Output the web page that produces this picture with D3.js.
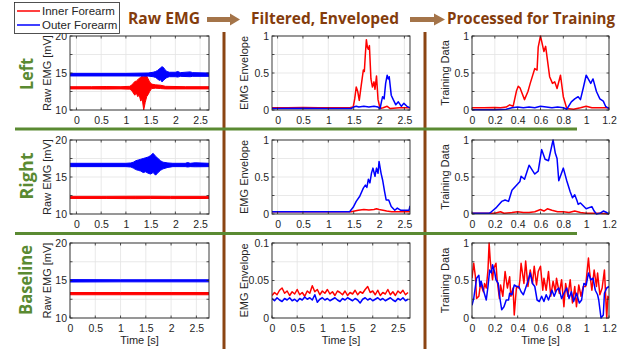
<!DOCTYPE html>
<html><head><meta charset="utf-8">
<script src="https://cdn.jsdelivr.net/npm/d3@7"></script>
<style>body{margin:0;background:#fff}svg{display:block}</style>
</head><body>
<svg id="c" width="633" height="356"></svg>
<script>
// ---------------- DATA ----------------
const stageTitles = ["Raw EMG", "Filtered, Enveloped", "Processed for Training"];
const rowLabels = ["Left", "Right", "Baseline"];
const seriesNames = ["Inner Forearm", "Outer Forearm"];
const yLabels = ["Raw EMG [mV]", "EMG Envelope", "Training Data"];
const xLabel = "Time [s]";

const rawYTicks = [10, 15, 20];
const rawYGrid = [10, 12.5, 15, 17.5, 20];
const envYTicks = [0, 0.5, 1];
const envYGrid = [0, 0.25, 0.5, 0.75, 1];
const baseEnvYTicks = [0, 0.05, 0.1];
const baseEnvYGrid = [0, 0.025, 0.05, 0.075, 0.1];
const timeTicks = [0, 0.5, 1, 1.5, 2, 2.5];
const trainTicks = [0, 0.2, 0.4, 0.6, 0.8, 1, 1.2];

// raw EMG: [time, min, max]
const leftRawInner = [[-0.13,12.85,13.15],[0.3,12.85,13.15],[0.6,12.83,13.17],[0.9,12.85,13.15],[1.08,12.82,13.2],[1.12,12.6,13.4],[1.15,12.3,13.6],[1.18,12.0,13.85],[1.21,12.3,13.9],[1.24,11.8,14.1],[1.27,12.0,14.3],[1.30,11.2,14.4],[1.33,11.5,14.6],[1.36,10.0,14.5],[1.39,11.0,14.7],[1.42,11.8,14.6],[1.45,12.1,14.2],[1.48,12.5,13.8],[1.52,12.9,13.5],[1.6,12.95,13.4],[1.7,12.9,13.35],[1.8,12.85,13.2],[2.2,12.85,13.15],[2.68,12.85,13.15]];
const leftRawOuter = [[-0.13,14.6,14.95],[1.0,14.6,14.95],[1.45,14.58,15.0],[1.55,14.5,15.1],[1.6,14.4,15.2],[1.64,14.2,15.35],[1.67,14.0,15.5],[1.70,14.1,15.7],[1.73,13.8,15.85],[1.76,14.0,15.75],[1.79,14.2,15.45],[1.83,14.4,15.2],[1.88,14.5,15.1],[2.0,14.5,15.1],[2.05,14.45,15.2],[2.1,14.55,15.05],[2.3,14.5,15.15],[2.35,14.55,15.05],[2.68,14.55,15.0]];
const rightRawInner = [[-0.13,12.1,12.38],[0.6,12.1,12.38],[1.2,12.07,12.4],[1.5,12.1,12.4],[1.9,12.08,12.38],[2.68,12.1,12.38]];
const rightRawOuter = [[-0.13,16.4,16.85],[0.5,16.4,16.85],[1.0,16.4,16.85],[1.1,16.35,16.9],[1.15,16.2,17.0],[1.2,16.0,17.2],[1.25,15.9,17.3],[1.3,15.8,17.4],[1.35,15.6,17.5],[1.4,15.7,17.6],[1.45,15.5,17.7],[1.5,15.4,17.9],[1.55,15.6,18.2],[1.6,15.25,17.8],[1.65,15.6,17.5],[1.7,15.9,17.2],[1.75,16.1,17.0],[1.85,16.3,16.9],[1.95,16.4,16.85],[2.2,16.4,16.85],[2.25,16.35,16.95],[2.3,16.4,16.85],[2.4,16.38,16.92],[2.68,16.4,16.85]];
const baseRawInner = [[0,13.1,13.4],[1.0,13.1,13.4],[2.0,13.1,13.4],[2.75,13.1,13.4]];
const baseRawOuter = [[0,14.8,15.12],[1.0,14.82,15.1],[2.0,14.82,15.1],[2.75,14.82,15.1]];

// envelopes: [time, value]
const leftEnvInner = [[-0.11,0.03],[0.2,0.03],[0.5,0.035],[0.8,0.03],[1.1,0.03],[1.42,0.03],[1.49,0.04],[1.52,0.15],[1.55,0.31],[1.58,0.25],[1.61,0.13],[1.65,0.34],[1.69,0.54],[1.71,0.52],[1.73,0.75],[1.75,0.95],[1.77,0.85],[1.79,0.82],[1.81,0.87],[1.84,0.42],[1.87,0.31],[1.90,0.38],[1.92,0.28],[1.95,0.46],[1.98,0.14],[2.02,0.02],[2.08,0.03],[2.16,0.05],[2.22,0.02],[2.4,0.03],[2.61,0.03]];
const leftEnvOuter = [[-0.11,0.02],[0.5,0.025],[1.0,0.02],[1.45,0.02],[1.5,0.04],[1.55,0.05],[1.6,0.04],[1.7,0.05],[1.8,0.04],[1.9,0.05],[1.98,0.04],[2.02,0.02],[2.05,0.12],[2.07,0.18],[2.1,0.15],[2.13,0.36],[2.16,0.47],[2.18,0.42],[2.2,0.45],[2.24,0.2],[2.28,0.14],[2.33,0.07],[2.38,0.11],[2.44,0.05],[2.49,0.09],[2.55,0.05],[2.61,0.03]];
const rightEnvInner = [[-0.11,0.03],[1.45,0.03],[1.52,0.04],[1.59,0.05],[1.7,0.06],[1.8,0.055],[1.9,0.06],[1.95,0.07],[2.0,0.06],[2.08,0.05],[2.15,0.04],[2.25,0.03],[2.61,0.03]];
const rightEnvOuter = [[-0.11,0.03],[0.5,0.03],[1.0,0.03],[1.42,0.03],[1.49,0.09],[1.55,0.17],[1.62,0.24],[1.69,0.35],[1.73,0.39],[1.76,0.36],[1.79,0.47],[1.82,0.42],[1.85,0.55],[1.88,0.62],[1.92,0.51],[1.95,0.62],[1.98,0.55],[2.0,0.71],[2.04,0.55],[2.07,0.46],[2.11,0.30],[2.14,0.19],[2.19,0.19],[2.24,0.10],[2.31,0.05],[2.36,0.08],[2.43,0.05],[2.53,0.05],[2.59,0.05],[2.61,0.11]];
const baseEnvInner = [[0,.030],[0.05,.034],[0.10,.031],[0.15,.037],[0.20,.040],[0.25,.033],[0.30,.036],[0.35,.030],[0.40,.035],[0.45,.032],[0.50,.038],[0.55,.031],[0.60,.034],[0.65,.029],[0.70,.036],[0.75,.033],[0.80,.043],[0.85,.035],[0.90,.038],[0.95,.031],[1.00,.036],[1.05,.033],[1.10,.038],[1.15,.032],[1.20,.035],[1.25,.030],[1.30,.036],[1.35,.034],[1.40,.031],[1.45,.036],[1.50,.030],[1.55,.034],[1.60,.032],[1.65,.037],[1.70,.031],[1.75,.035],[1.80,.033],[1.85,.038],[1.90,.042],[1.95,.034],[2.00,.036],[2.05,.031],[2.10,.037],[2.15,.030],[2.20,.034],[2.25,.032],[2.30,.038],[2.35,.031],[2.40,.035],[2.45,.030],[2.50,.036],[2.55,.033],[2.60,.037],[2.65,.031],[2.70,.034]];
const baseEnvOuter = [[0,.026],[0.05,.023],[0.10,.027],[0.15,.024],[0.20,.022],[0.25,.026],[0.30,.024],[0.35,.027],[0.40,.023],[0.45,.025],[0.50,.022],[0.55,.026],[0.60,.024],[0.65,.028],[0.70,.025],[0.75,.027],[0.80,.024],[0.85,.031],[0.90,.021],[0.95,.025],[1.00,.027],[1.05,.024],[1.10,.026],[1.15,.023],[1.20,.025],[1.25,.027],[1.30,.024],[1.35,.022],[1.40,.026],[1.45,.024],[1.50,.027],[1.55,.025],[1.60,.023],[1.65,.026],[1.70,.024],[1.75,.020],[1.80,.025],[1.85,.027],[1.90,.024],[1.95,.026],[2.00,.023],[2.05,.025],[2.10,.027],[2.15,.024],[2.20,.026],[2.25,.023],[2.30,.025],[2.35,.027],[2.40,.024],[2.45,.022],[2.50,.026],[2.55,.024],[2.60,.027],[2.65,.023],[2.70,.025]];

// training data: [time, value]
const leftTrainInner = [[0,0.03],[0.1,0.03],[0.2,0.035],[0.25,0.03],[0.3,0.04],[0.33,0.07],[0.36,0.05],[0.39,0.26],[0.405,0.32],[0.42,0.3],[0.46,0.14],[0.49,0.25],[0.51,0.36],[0.55,0.56],[0.57,0.54],[0.58,0.85],[0.60,1.0],[0.63,0.79],[0.645,0.86],[0.68,0.45],[0.705,0.36],[0.725,0.38],[0.745,0.29],[0.775,0.47],[0.80,0.18],[0.83,0.02],[0.89,0.01],[0.95,0.03],[1.0,0.05],[1.05,0.03],[1.2,0.03]];
const leftTrainOuter = [[0,0.005],[0.2,0.005],[0.3,0.01],[0.35,0.03],[0.4,0.04],[0.45,0.03],[0.5,0.04],[0.55,0.03],[0.6,0.05],[0.65,0.04],[0.7,0.03],[0.75,0.04],[0.8,0.03],[0.83,0.01],[0.87,0.11],[0.9,0.15],[0.93,0.18],[0.95,0.14],[0.975,0.3],[1.0,0.47],[1.04,0.36],[1.06,0.42],[1.09,0.25],[1.12,0.15],[1.15,0.12],[1.17,0.05],[1.2,0.02]];
const rightTrainInner = [[0,0.01],[0.1,0.01],[0.2,0.01],[0.25,0.03],[0.28,0.01],[0.35,0.02],[0.4,0.03],[0.45,0.02],[0.5,0.02],[0.55,0.03],[0.6,0.06],[0.63,0.04],[0.66,0.07],[0.7,0.05],[0.75,0.03],[0.8,0.03],[0.85,0.02],[0.9,0.04],[0.95,0.02],[1.0,0.01],[1.1,0.01],[1.2,0.005]];
const rightTrainOuter = [[0,0.01],[0.1,0.01],[0.15,0.01],[0.17,0.03],[0.215,0.09],[0.26,0.17],[0.29,0.19],[0.32,0.17],[0.35,0.32],[0.39,0.39],[0.42,0.44],[0.43,0.51],[0.46,0.47],[0.50,0.66],[0.55,0.54],[0.58,0.58],[0.61,0.87],[0.64,0.74],[0.67,0.72],[0.71,1.0],[0.73,0.82],[0.745,0.75],[0.76,0.45],[0.80,0.62],[0.83,0.45],[0.86,0.3],[0.88,0.22],[0.90,0.26],[0.92,0.18],[0.93,0.13],[0.95,0.15],[1.0,0.07],[1.05,0.1],[1.07,0.04],[1.09,0.0],[1.12,0.01],[1.15,0.04],[1.18,0.02],[1.2,0.0]];
const baseTrainInner = [[0,0.53],[0.015,0.73],[0.03,0.55],[0.04,0.26],[0.06,0.29],[0.075,0.46],[0.1,0.35],[0.11,0.46],[0.125,0.4],[0.14,0.64],[0.15,1.0],[0.16,0.76],[0.18,0.51],[0.19,0.66],[0.21,0.73],[0.22,0.51],[0.24,0.26],[0.25,0.44],[0.27,0.29],[0.29,0.62],[0.31,0.4],[0.33,0.55],[0.34,0.29],[0.36,0.4],[0.37,0.04],[0.39,0.42],[0.41,0.4],[0.42,0.51],[0.43,0.73],[0.455,0.46],[0.47,0.76],[0.49,0.42],[0.51,0.64],[0.53,0.46],[0.545,0.69],[0.565,0.44],[0.58,0.62],[0.6,0.69],[0.62,0.37],[0.63,0.53],[0.65,0.37],[0.67,0.62],[0.69,0.29],[0.71,0.49],[0.73,0.35],[0.74,0.53],[0.765,0.33],[0.785,0.51],[0.805,0.15],[0.82,0.46],[0.84,0.29],[0.86,0.51],[0.88,0.2],[0.9,0.42],[0.915,0.15],[0.935,0.44],[0.955,0.29],[0.975,0.42],[0.995,0.42],[1.02,0.8],[1.03,0.62],[1.05,0.37],[1.07,0.64],[1.09,0.42],[1.1,0.6],[1.12,0.31],[1.14,0.4],[1.16,0.64],[1.18,0.0],[1.19,0.29],[1.2,0.26]];
const baseTrainOuter = [[0,0.17],[0.015,0.26],[0.04,0.53],[0.06,0.57],[0.07,0.42],[0.08,0.49],[0.1,0.37],[0.125,0.24],[0.14,0.42],[0.155,0.64],[0.17,0.6],[0.18,0.71],[0.2,0.6],[0.21,0.51],[0.23,0.46],[0.24,0.31],[0.26,0.11],[0.28,0.15],[0.3,0.24],[0.32,0.24],[0.33,0.33],[0.35,0.31],[0.37,0.44],[0.39,0.42],[0.41,0.42],[0.43,0.35],[0.45,0.31],[0.47,0.4],[0.49,0.49],[0.51,0.6],[0.53,0.46],[0.55,0.42],[0.57,0.24],[0.59,0.22],[0.61,0.29],[0.63,0.22],[0.65,0.31],[0.67,0.24],[0.7,0.37],[0.72,0.29],[0.74,0.37],[0.76,0.4],[0.785,0.26],[0.805,0.33],[0.83,0.4],[0.85,0.26],[0.87,0.35],[0.89,0.22],[0.915,0.33],[0.94,0.2],[0.96,0.24],[0.98,0.46],[1.0,0.44],[1.02,0.6],[1.04,0.51],[1.06,0.53],[1.08,0.37],[1.1,0.31],[1.11,0.24],[1.13,0.0],[1.15,0.04],[1.16,0.33],[1.18,0.4],[1.2,0.42]];

// ---------------- LAYOUT / STYLE ----------------
const RED = "#ff0000", BLUE = "#0000ff";
const BROWN = "#843c0c", ARROW = "#a47449", VLINE = "#8b4513", GREEN = "#5a8a32";
const AX = "#262626", GRID = "#e3e3e3";
const colX = [[70, 209], [272, 410], [472, 609]];
const rowY = [[36, 110], [140, 214], [243, 318]];

const panels = [
  {r:0,c:0,xd:[-0.13,2.68],yd:[10,20],xt:timeTicks,yt:rawYTicks,yg:rawYGrid,band:[leftRawInner,leftRawOuter]},
  {r:0,c:1,xd:[-0.11,2.61],yd:[0,1],xt:timeTicks,yt:envYTicks,yg:envYGrid,line:[leftEnvInner,leftEnvOuter]},
  {r:0,c:2,xd:[0,1.2],yd:[0,1],xt:trainTicks,yt:envYTicks,yg:envYGrid,line:[leftTrainInner,leftTrainOuter]},
  {r:1,c:0,xd:[-0.13,2.68],yd:[10,20],xt:timeTicks,yt:rawYTicks,yg:rawYGrid,band:[rightRawInner,rightRawOuter]},
  {r:1,c:1,xd:[-0.11,2.61],yd:[0,1],xt:timeTicks,yt:envYTicks,yg:envYGrid,line:[rightEnvInner,rightEnvOuter]},
  {r:1,c:2,xd:[0,1.2],yd:[0,1],xt:trainTicks,yt:envYTicks,yg:envYGrid,line:[rightTrainInner,rightTrainOuter]},
  {r:2,c:0,xd:[0,2.75],yd:[10,20],xt:timeTicks,yt:rawYTicks,yg:rawYGrid,band:[baseRawInner,baseRawOuter]},
  {r:2,c:1,xd:[0,2.74],yd:[0,0.1],xt:timeTicks,yt:baseEnvYTicks,yg:baseEnvYGrid,line:[baseEnvInner,baseEnvOuter]},
  {r:2,c:2,xd:[0,1.2],yd:[0,1],xt:trainTicks,yt:envYTicks,yg:envYGrid,line:[baseTrainInner,baseTrainOuter]}
];
const yLabelX = [51, 248, 449];

const svg = d3.select("#c");
const TICKFONT = "'Liberation Sans', Arial, Helvetica, sans-serif";
const HEADFONT = "'Open Sans', 'Noto Sans', sans-serif";
const defs = svg.append("defs");

// separators
const sep = svg.append("g");
[224, 425].forEach(x => sep.append("line").attr("x1", x).attr("x2", x).attr("y1", 32).attr("y2", 349)
  .attr("stroke", VLINE).attr("stroke-width", 3));
[129, 233.5].forEach(y => sep.append("line").attr("x1", 15).attr("x2", 577).attr("y1", y).attr("y2", y)
  .attr("stroke", GREEN).attr("stroke-width", 3));

panels.forEach((p, i) => {
  const [x0, x1] = colX[p.c], [y0, y1] = rowY[p.r];
  const x = d3.scaleLinear().domain(p.xd).range([x0, x1]);
  const y = d3.scaleLinear().domain(p.yd).range([y1, y0]);
  const g = svg.append("g");
  g.append("rect").attr("x", x0).attr("y", y0).attr("width", x1 - x0).attr("height", y1 - y0).attr("fill", "#fff");
  g.selectAll(".gx").data(p.xt).join("line").attr("x1", d => x(d)).attr("x2", d => x(d))
    .attr("y1", y0).attr("y2", y1).attr("stroke", GRID).attr("stroke-width", 0.8);
  g.selectAll(".gy").data(p.yg).join("line").attr("y1", d => y(d)).attr("y2", d => y(d))
    .attr("x1", x0).attr("x2", x1).attr("stroke", GRID).attr("stroke-width", 0.8);
  const cid = "clip" + i;
  defs.append("clipPath").attr("id", cid).append("rect").attr("x", x0).attr("y", y0 - 1)
    .attr("width", x1 - x0).attr("height", y1 - y0 + 2);
  const dg = g.append("g").attr("clip-path", `url(#${cid})`);
  const cols = [RED, BLUE];
  if (p.band) {
    const area = d3.area().x(d => x(d[0])).y0(d => y(d[1])).y1(d => y(d[2]));
    p.band.forEach((s, k) => dg.append("path").datum(s).attr("d", area)
      .attr("fill", cols[k]).attr("stroke", cols[k]).attr("stroke-width", 1).attr("stroke-linejoin", "round"));
  }
  if (p.line) {
    const line = d3.line().x(d => x(d[0])).y(d => y(d[1]));
    p.line.forEach((s, k) => dg.append("path").datum(s).attr("d", line)
      .attr("fill", "none").attr("stroke", cols[k]).attr("stroke-width", 1.5).attr("stroke-linejoin", "round"));
  }
  const tl = 2.5;
  p.xt.forEach(v => {
    g.append("line").attr("x1", x(v)).attr("x2", x(v)).attr("y1", y1).attr("y2", y1 - tl).attr("stroke", AX).attr("stroke-width", 0.8);
    g.append("line").attr("x1", x(v)).attr("x2", x(v)).attr("y1", y0).attr("y2", y0 + tl).attr("stroke", AX).attr("stroke-width", 0.8);
  });
  p.yg.forEach(v => {
    g.append("line").attr("y1", y(v)).attr("y2", y(v)).attr("x1", x0).attr("x2", x0 + tl).attr("stroke", AX).attr("stroke-width", 0.8);
    g.append("line").attr("y1", y(v)).attr("y2", y(v)).attr("x1", x1).attr("x2", x1 - tl).attr("stroke", AX).attr("stroke-width", 0.8);
  });
  g.append("rect").attr("x", x0).attr("y", y0).attr("width", x1 - x0).attr("height", y1 - y0)
    .attr("fill", "none").attr("stroke", AX).attr("stroke-width", 0.9);
  const fmt = d3.format("~g");
  const ax = g.append("g").attr("transform", `translate(0,${y1})`)
    .call(d3.axisBottom(x).tickValues(p.xt).tickSize(0).tickPadding(7).tickFormat(fmt));
  const ay = g.append("g").attr("transform", `translate(${x0},0)`)
    .call(d3.axisLeft(y).tickValues(p.yt).tickSize(0).tickPadding(3).tickFormat(fmt));
  [ax, ay].forEach(a => {
    a.select(".domain").remove();
    a.selectAll("text").attr("fill", AX).style("font-family", TICKFONT).style("font-size", "10.5px");
  });
  g.append("text").attr("transform", `translate(${yLabelX[p.c]},${(y0 + y1) / 2}) rotate(-90)`)
    .attr("text-anchor", "middle").attr("fill", AX).style("font-family", TICKFONT).style("font-size", "11px")
    .text(yLabels[p.c]);
  if (p.r === 2) {
    g.append("text").attr("x", (x0 + x1) / 2).attr("y", 344).attr("text-anchor", "middle")
      .attr("fill", AX).style("font-family", TICKFONT).style("font-size", "11px").text(xLabel);
  }
});

// headers
const headX = [[128, 72], [251, 148], [447, 168]];
stageTitles.forEach((t, i) => {
  svg.append("text").attr("x", headX[i][0]).attr("y", 24).attr("textLength", headX[i][1])
    .attr("lengthAdjust", "spacingAndGlyphs").attr("fill", BROWN)
    .style("font-family", HEADFONT).style("font-weight", "bold").style("font-size", "15.5px").text(t);
});
// arrows
[[207, 230, 240], [410, 434, 445]].forEach(([a, b, tip]) => {
  svg.append("path").attr("d", `M${a},17 L${b},17 L${b},13.5 L${tip},19.5 L${b},25.5 L${b},22 L${a},22 Z`)
    .attr("fill", ARROW);
});

// row labels
const rowLab = [[33, 74, 32], [33, 176, 47], [32, 280, 70]];
rowLabels.forEach((t, i) => {
  svg.append("text").attr("transform", `translate(${rowLab[i][0]},${rowLab[i][1]}) rotate(-90)`)
    .attr("text-anchor", "middle").attr("textLength", rowLab[i][2]).attr("lengthAdjust", "spacingAndGlyphs")
    .attr("fill", GREEN).style("font-family", HEADFONT).style("font-weight", "bold").style("font-size", "17.5px").text(t);
});

// legend
const lg = svg.append("g");
lg.append("rect").attr("x", 14.5).attr("y", 2.5).attr("width", 105).attr("height", 31)
  .attr("fill", "#fff").attr("stroke", AX).attr("stroke-width", 0.8);
[[RED, 11], [BLUE, 25]].forEach(([c, yy], k) => {
  lg.append("line").attr("x1", 17).attr("x2", 40).attr("y1", yy).attr("y2", yy).attr("stroke", c).attr("stroke-width", 1.5);
  lg.append("text").attr("x", 42).attr("y", yy + 4).attr("fill", AX).style("font-family", TICKFONT)
    .style("font-size", "11.5px").text(seriesNames[k]);
});
</script>
</body></html>
